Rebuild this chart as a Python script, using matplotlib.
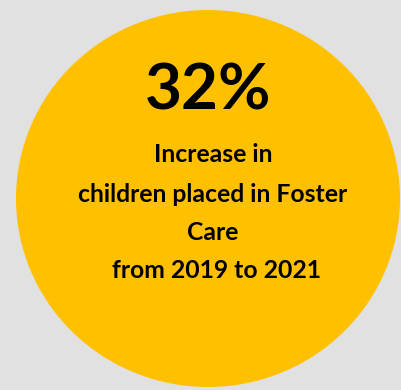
import matplotlib.pyplot as plt
from matplotlib.patches import Ellipse

# headline figure and caption for the callout bubble
pct_increase = 32
caption_lines = ["Increase in", "children placed in Foster", "Care", "from 2019 to 2021"]
caption_y = [155, 194, 232, 270]

W, H = 401, 390
fig = plt.figure(figsize=(W / 100, H / 100), dpi=100, facecolor="#e1e1e1")
ax = fig.add_axes([0, 0, 1, 1])
ax.set_xlim(0, W)
ax.set_ylim(H, 0)
ax.axis("off")

ax.add_patch(Ellipse((208, 198.5), 384, 377, facecolor="#ffc000", edgecolor="none"))

ax.text(208, 91, f"{pct_increase}%", ha="center", va="center",
        fontsize=46, fontweight="bold", family="Lato", color="black")

for line, y in zip(caption_lines, caption_y):
    x = 216 if line.startswith("from") else 213
    ax.text(x, y, line, ha="center", va="center",
            fontsize=17.8, fontweight="bold", family="Lato", color="black")

fig.savefig("out.png", dpi=100, facecolor=fig.get_facecolor())
